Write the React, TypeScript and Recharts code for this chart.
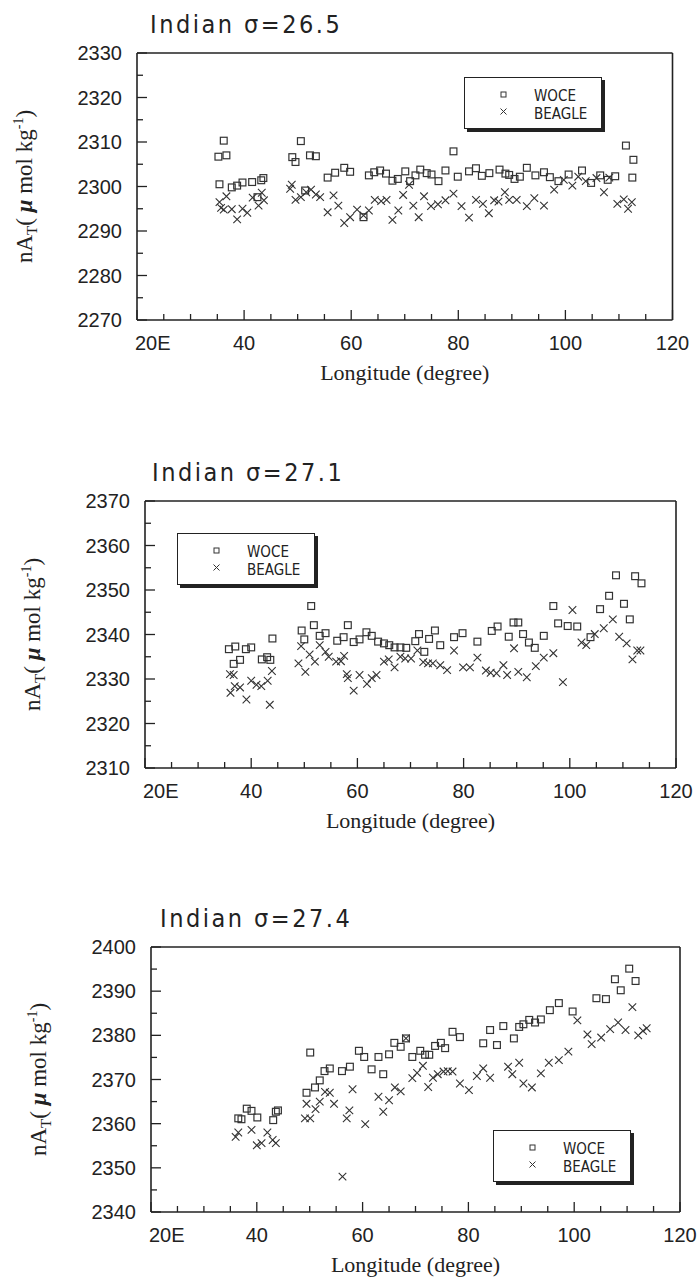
import { Scatter, ScatterChart, XAxis, YAxis } from 'recharts';

// normalized total alkalinity along longitude, Indian Ocean, three density surfaces
type Pt = [number, number]; // [longitude, nAT]

const WOCE_265: Pt[] = [
  [35.2, 2306.7], [35.4, 2300.5], [36.2, 2310.3], [36.7, 2307.0], [37.7, 2299.8], [38.7, 2300.2],
  [39.7, 2300.9], [41.5, 2301.0], [42.5, 2297.6], [43.2, 2301.4], [43.6, 2301.9], [49.0, 2306.6],
  [49.6, 2305.5], [50.6, 2310.2], [51.4, 2299.1], [52.3, 2307.0], [53.4, 2306.8], [55.6, 2302.0],
  [57.0, 2303.1], [58.7, 2304.2], [59.8, 2303.3], [62.3, 2293.1], [63.3, 2302.5], [64.3, 2303.2],
  [65.4, 2303.6], [66.5, 2302.9], [67.7, 2301.3], [68.7, 2301.7], [70.1, 2303.4], [71.0, 2301.2],
  [72.0, 2302.5], [72.9, 2303.8], [74.1, 2303.0], [75.0, 2302.7], [76.3, 2301.2], [77.6, 2303.6],
  [79.1, 2307.9], [79.9, 2302.2], [82.0, 2303.4], [83.3, 2304.1], [84.4, 2302.4], [85.8, 2303.0],
  [87.7, 2303.8], [88.8, 2302.9], [89.5, 2302.6], [90.5, 2301.7], [91.5, 2302.2], [92.8, 2304.2],
  [94.4, 2302.5], [96.0, 2303.2], [97.1, 2302.1], [98.7, 2301.2], [100.6, 2302.7], [103.1, 2303.6],
  [104.8, 2300.8], [106.5, 2302.5], [107.9, 2301.5], [109.3, 2302.3], [111.3, 2309.2], [112.5, 2302.0],
  [112.7, 2306.0],
];

const BEAGLE_265: Pt[] = [
  [35.4, 2296.5], [35.7, 2295.2], [36.2, 2294.8], [36.7, 2297.8], [37.7, 2294.9], [38.7, 2292.6],
  [39.7, 2295.0], [40.6, 2294.1], [41.6, 2297.5], [42.7, 2295.7], [43.3, 2298.6], [43.7, 2296.9],
  [48.6, 2299.5], [48.9, 2300.4], [49.6, 2297.0], [50.6, 2297.6], [51.6, 2298.7], [52.5, 2299.3],
  [53.4, 2298.2], [54.2, 2297.6], [55.6, 2294.2], [56.7, 2298.0], [57.6, 2295.7], [58.7, 2291.8],
  [59.8, 2293.1], [61.1, 2294.8], [62.3, 2293.5], [63.3, 2294.6], [64.4, 2297.0], [65.6, 2296.7],
  [66.6, 2297.0], [67.7, 2292.5], [68.8, 2294.6], [69.7, 2298.1], [70.8, 2300.4], [71.6, 2295.7],
  [72.6, 2293.1], [73.6, 2297.8], [74.9, 2295.6], [76.2, 2296.0], [77.6, 2296.9], [79.1, 2298.4],
  [80.6, 2295.6], [82.0, 2293.0], [83.3, 2297.0], [84.6, 2296.1], [85.7, 2294.0], [86.7, 2296.9],
  [87.5, 2296.6], [88.7, 2298.7], [89.5, 2297.0], [90.9, 2297.0], [92.8, 2295.6], [94.2, 2297.4],
  [96.0, 2295.7], [97.9, 2299.3], [99.7, 2301.5], [101.3, 2300.2], [102.4, 2302.2], [103.8, 2301.2],
  [105.8, 2301.9], [107.2, 2298.7], [108.2, 2302.0], [109.7, 2296.1], [110.9, 2297.1], [111.7, 2295.0],
  [112.4, 2296.5],
];

const WOCE_271: Pt[] = [
  [35.8, 2336.7], [36.7, 2333.4], [37.0, 2337.3], [37.9, 2334.3], [39.0, 2336.7], [40.0, 2337.1],
  [42.0, 2334.4], [43.0, 2334.9], [43.6, 2334.3], [44.0, 2339.1], [49.5, 2340.9], [50.0, 2338.9],
  [51.3, 2346.4], [51.8, 2342.1], [52.9, 2339.7], [54.0, 2340.3], [56.2, 2338.6], [57.4, 2339.4],
  [58.2, 2342.1], [59.3, 2338.3], [60.4, 2338.9], [61.7, 2340.5], [62.7, 2339.7], [63.9, 2338.4],
  [65.0, 2338.0], [66.0, 2337.6], [67.0, 2337.1], [68.1, 2337.1], [69.2, 2337.0], [70.9, 2338.5],
  [71.6, 2340.1], [72.6, 2336.1], [73.5, 2339.0], [74.6, 2340.9], [75.6, 2337.6], [78.2, 2339.4],
  [79.8, 2340.3], [82.6, 2338.4], [85.3, 2340.8], [86.4, 2341.8], [88.5, 2339.5], [89.4, 2342.7],
  [90.3, 2342.7], [91.2, 2340.1], [92.3, 2338.2], [93.4, 2337.0], [95.1, 2339.7], [96.9, 2346.4],
  [97.8, 2342.5], [99.6, 2341.9], [101.4, 2341.8], [103.9, 2339.4], [105.7, 2345.7], [107.4, 2348.7],
  [108.7, 2353.3], [110.2, 2346.9], [111.3, 2343.4], [112.3, 2353.1], [113.5, 2351.5],
];

const BEAGLE_271: Pt[] = [
  [36.0, 2331.1], [36.1, 2326.9], [36.7, 2330.9], [36.9, 2328.4], [37.9, 2328.1], [39.1, 2325.4],
  [40.0, 2329.6], [41.0, 2328.7], [41.9, 2328.4], [43.1, 2329.6], [43.5, 2324.2], [43.9, 2331.8],
  [48.9, 2333.5], [49.4, 2337.4], [50.2, 2331.6], [51.0, 2335.5], [52.0, 2333.9], [52.9, 2337.6],
  [54.0, 2336.1], [54.6, 2335.0], [56.0, 2333.9], [56.9, 2334.0], [57.5, 2335.2], [58.0, 2331.1],
  [58.2, 2330.2], [59.3, 2327.4], [60.4, 2330.9], [61.8, 2328.9], [62.7, 2330.2], [63.6, 2330.9],
  [65.0, 2333.9], [65.9, 2334.4], [67.0, 2332.6], [68.1, 2335.0], [69.0, 2334.6], [70.1, 2334.6],
  [71.3, 2336.4], [72.4, 2333.8], [73.3, 2333.5], [74.2, 2333.5], [75.6, 2333.1], [76.9, 2332.0],
  [78.2, 2336.4], [79.9, 2332.6], [81.2, 2332.6], [82.6, 2334.8], [84.2, 2331.9], [85.1, 2331.4],
  [86.2, 2331.3], [87.5, 2333.1], [88.2, 2330.9], [89.5, 2336.9], [90.3, 2331.6], [91.9, 2330.4],
  [93.6, 2332.9], [95.1, 2334.8], [96.9, 2335.8], [98.7, 2329.3], [100.5, 2345.5], [102.2, 2338.2],
  [103.1, 2337.6], [104.7, 2340.1], [106.4, 2341.4], [108.1, 2343.4], [109.3, 2339.5], [110.7, 2338.0],
  [111.8, 2334.4], [112.7, 2336.4], [113.3, 2336.4],
];

const WOCE_274: Pt[] = [
  [36.5, 2361.2], [37.1, 2361.0], [38.1, 2363.4], [39.0, 2362.9], [40.1, 2361.4], [43.1, 2360.8],
  [43.6, 2362.7], [44.0, 2363.0], [49.4, 2367.0], [50.1, 2376.1], [51.0, 2368.2], [51.9, 2369.8],
  [52.8, 2371.9], [53.8, 2372.5], [56.1, 2371.9], [57.6, 2372.9], [59.3, 2376.5], [60.3, 2375.1],
  [61.7, 2372.3], [63.0, 2375.1], [63.9, 2371.2], [65.0, 2375.7], [66.0, 2378.3], [67.2, 2377.4],
  [68.2, 2379.3], [69.4, 2375.1], [70.9, 2376.5], [71.8, 2375.6], [72.6, 2375.6], [73.7, 2377.6],
  [74.8, 2378.3], [75.6, 2377.1], [77.0, 2380.8], [78.4, 2379.6], [82.8, 2378.2], [84.1, 2381.2],
  [85.4, 2377.8], [86.6, 2382.1], [88.6, 2379.3], [89.6, 2381.9], [90.4, 2382.5], [91.5, 2383.5],
  [92.6, 2382.9], [93.7, 2383.6], [95.4, 2385.7], [97.1, 2387.3], [99.7, 2385.4], [104.2, 2388.4],
  [106.0, 2388.2], [107.7, 2392.7], [108.8, 2390.2], [110.4, 2395.1], [111.6, 2392.3],
];

const BEAGLE_274: Pt[] = [
  [36.0, 2357.0], [36.5, 2358.0], [39.0, 2358.6], [40.0, 2355.1], [40.9, 2355.6], [42.0, 2358.0],
  [43.0, 2356.3], [43.6, 2355.6], [49.1, 2361.2], [49.4, 2364.5], [50.1, 2361.2], [51.1, 2363.3],
  [51.9, 2365.0], [52.9, 2367.2], [53.8, 2367.0], [54.6, 2364.5], [56.2, 2348.0], [57.0, 2361.2],
  [57.5, 2363.0], [58.1, 2367.8], [60.5, 2359.9], [63.0, 2366.1], [63.9, 2362.7], [65.0, 2365.3],
  [66.1, 2368.2], [67.2, 2367.3], [68.2, 2379.3], [69.4, 2370.3], [70.3, 2371.5], [71.4, 2373.1],
  [72.4, 2368.3], [73.3, 2370.4], [74.2, 2371.2], [75.3, 2371.8], [76.1, 2371.9], [77.0, 2371.8],
  [78.4, 2369.1], [80.1, 2367.6], [81.6, 2370.8], [82.8, 2372.5], [84.1, 2370.4], [87.5, 2372.9],
  [88.3, 2371.2], [89.6, 2373.8], [90.4, 2369.1], [92.0, 2368.2], [93.7, 2371.4], [95.2, 2373.8],
  [97.1, 2374.4], [98.9, 2376.3], [100.6, 2383.4], [102.5, 2380.2], [103.3, 2378.0], [105.1, 2379.5],
  [106.8, 2381.4], [108.3, 2382.9], [109.7, 2381.2], [111.0, 2386.4], [112.1, 2380.0], [113.0, 2381.0],
  [113.7, 2381.6],
];

const LON_TICKS = [20, 25, 30, 35, 40, 45, 50, 55, 60, 65, 70, 75, 80, 85, 90, 95, 100, 105, 110, 115, 120];
const LON_LABELS: Record<number, string> = { 20: '20E', 40: '40', 60: '60', 80: '80', 100: '100', 120: '120' };

const Y_TICKS_265 = [2270, 2275, 2280, 2285, 2290, 2295, 2300, 2305, 2310, 2315, 2320, 2325, 2330];
const Y_TICKS_271 = [2310, 2315, 2320, 2325, 2330, 2335, 2340, 2345, 2350, 2355, 2360, 2365, 2370];
const Y_TICKS_274 = [2340, 2345, 2350, 2355, 2360, 2365, 2370, 2375, 2380, 2385, 2390, 2395, 2400];

const SERIES_NAMES = ['WOCE', 'BEAGLE'];

const INK = '#222';
const MARK = '#333';
const SANS = "'Liberation Sans', Arial, sans-serif";
const NARROW = "'Liberation Sans Narrow', 'DejaVu Sans Condensed', 'Liberation Sans', sans-serif";
const SERIF = "'Liberation Serif', 'Times New Roman', serif";

const toRows = (pts: Pt[]) => pts.map(([lon, val]) => ({ lon, val }));

function SquareMark(props: any) {
  const { cx, cy } = props;
  if (cx == null || cy == null) return null;
  return <rect x={cx - 3.4} y={cy - 3.4} width={6.8} height={6.8} fill="none" stroke={MARK} strokeWidth={1.2} />;
}

function CrossMark(props: any) {
  const { cx, cy } = props;
  if (cx == null || cy == null) return null;
  const r = 3.8;
  return (
    <path d={`M${cx - r},${cy - r}L${cx + r},${cy + r}M${cx - r},${cy + r}L${cx + r},${cy - r}`} stroke={MARK} strokeWidth={1.1} fill="none" />
  );
}

// ticks point inward on every side; major ones are longer
function BottomTick(props: any) {
  const { x, y, payload } = props;
  const v = payload.value as number;
  const major = v % 20 === 0;
  const label = LON_LABELS[v];
  return (
    <g>
      <line x1={x} y1={y} x2={x} y2={y - (major ? 10 : 6)} stroke={INK} strokeWidth={1.3} />
      {label && (
        <text x={v === 20 ? x - 2 : x} y={y + 30} textAnchor={v === 20 ? 'start' : 'middle'} fontFamily={SANS} fontSize={20} fill={INK}>
          {label}
        </text>
      )}
    </g>
  );
}

function TopTick(props: any) {
  const { x, y, payload } = props;
  const major = (payload.value as number) % 20 === 0;
  return <line x1={x} y1={y} x2={x} y2={y + (major ? 10 : 6)} stroke={INK} strokeWidth={1.3} />;
}

function LeftTick(props: any) {
  const { x, y, payload } = props;
  const v = payload.value as number;
  const major = v % 10 === 0;
  return (
    <g>
      <line x1={x} y1={y} x2={x + (major ? 10 : 6)} y2={y} stroke={INK} strokeWidth={1.3} />
      {major && (
        <text x={x - 15} y={y + 7} textAnchor="end" fontFamily={SANS} fontSize={20} fill={INK}>
          {v}
        </text>
      )}
    </g>
  );
}

function RightTick(props: any) {
  const { x, y, payload } = props;
  const major = (payload.value as number) % 10 === 0;
  return <line x1={x} y1={y} x2={x - (major ? 10 : 6)} y2={y} stroke={INK} strokeWidth={1.3} />;
}

function LegendBox({ x, y }: { x: number; y: number }) {
  return (
    <div
      style={{
        position: 'absolute',
        left: x,
        top: y,
        width: 136,
        height: 50,
        border: `1.5px solid ${INK}`,
        boxShadow: `3px 3px 0 ${INK}`,
        background: '#fff',
      }}
    >
      <svg width={136} height={50} style={{ position: 'absolute', left: 0, top: 0 }}>
        <rect x={36} y={14} width={5} height={5} fill="none" stroke={MARK} strokeWidth={1} />
        <path d="M35.5,30.5L41.5,36.5M35.5,36.5L41.5,30.5" stroke={MARK} strokeWidth={1} />
        <text x={69} y={22.5} fontFamily={NARROW} fontSize={15} fill={INK}>{SERIES_NAMES[0]}</text>
        <text x={69} y={40.5} fontFamily={NARROW} fontSize={15} fill={INK}>{SERIES_NAMES[1]}</text>
      </svg>
    </div>
  );
}

interface PanelProps {
  top: number;
  title: string;
  woce: Pt[];
  beagle: Pt[];
  yTicks: number[];
  left: number;
  right: number;
  plotH: number;
  titleX: number;
  yLabelX: number;
  legendX: number;
  legendY: number;
}

const W = 700;
const H = 392;
const M_TOP = 53;

function Panel({ top, title, woce, beagle, yTicks, left, right, plotH, titleX, yLabelX, legendX, legendY }: PanelProps) {
  // axes take 1px each, so margins are reduced by one to keep the plot frame where wanted
  const margin = { top: M_TOP - 1, left: left - 1, right: W - right - 1, bottom: H - M_TOP - plotH - 1 };
  const yDomain: [number, number] = [yTicks[0], yTicks[yTicks.length - 1]];
  const frameBottom = M_TOP + plotH;
  const cy = M_TOP + plotH / 2;
  const axisLine = { stroke: INK, strokeWidth: 1.6 };
  return (
    <div style={{ position: 'absolute', left: 0, top, width: W, height: H }}>
      <ScatterChart width={W} height={H} margin={margin}>
        <XAxis
          dataKey="lon"
          type="number"
          domain={[20, 120]}
          ticks={LON_TICKS}
          interval={0}
          height={1}
          tickSize={0}
          tickMargin={0}
          tickLine={false}
          axisLine={axisLine}
          tick={(p: any) => <BottomTick {...p} />}
        />
        <XAxis
          xAxisId="t"
          orientation="top"
          type="number"
          domain={[20, 120]}
          ticks={LON_TICKS}
          interval={0}
          height={1}
          tickSize={0}
          tickMargin={0}
          tickLine={false}
          axisLine={axisLine}
          tick={(p: any) => <TopTick {...p} />}
        />
        <YAxis
          dataKey="val"
          type="number"
          domain={yDomain}
          ticks={yTicks}
          interval={0}
          width={1}
          tickSize={0}
          tickMargin={0}
          tickLine={false}
          axisLine={axisLine}
          tick={(p: any) => <LeftTick {...p} />}
        />
        <YAxis
          yAxisId="r"
          orientation="right"
          type="number"
          domain={yDomain}
          ticks={yTicks}
          interval={0}
          width={1}
          tickSize={0}
          tickMargin={0}
          tickLine={false}
          axisLine={axisLine}
          tick={(p: any) => <RightTick {...p} />}
        />
        <Scatter name={SERIES_NAMES[0]} data={toRows(woce)} shape={SquareMark} isAnimationActive={false} />
        <Scatter name={SERIES_NAMES[1]} data={toRows(beagle)} shape={CrossMark} isAnimationActive={false} />
      </ScatterChart>
      <LegendBox x={legendX} y={legendY} />
      <svg width={W} height={H} style={{ position: 'absolute', left: 0, top: 0, pointerEvents: 'none' }}>
        <text x={titleX} y={M_TOP - 20} fontFamily={NARROW} fontSize={25} letterSpacing={2.5} fill={INK}>
          {title}
        </text>
        <text
          transform={`translate(${yLabelX},${cy}) rotate(-90)`}
          textAnchor="middle"
          fontFamily={SERIF}
          fontSize={23}
          fill={INK}
        >
          nA
          <tspan dy={5} fontSize={15}>T</tspan>
          <tspan dy={-5}>( </tspan>
          <tspan fontStyle="italic" fontWeight="bold">μ</tspan>
          <tspan> mol kg</tspan>
          <tspan dy={-9} fontSize={14}>-1</tspan>
          <tspan dy={9}>)</tspan>
        </text>
        <text x={(left + right) / 2} y={frameBottom + 60} textAnchor="middle" fontFamily={SERIF} fontSize={22} fill={INK}>
          Longitude (degree)
        </text>
      </svg>
    </div>
  );
}

export default function App() {
  return (
    <div style={{ position: 'absolute', left: 0, top: 0, width: W, height: 1286, background: '#fff' }}>
      <Panel
        top={0}
        title="Indian  σ=26.5"
        woce={WOCE_265}
        beagle={BEAGLE_265}
        yTicks={Y_TICKS_265}
        left={137}
        right={672.5}
        plotH={267}
        titleX={150}
        yLabelX={32}
        legendX={464}
        legendY={77}
      />
      <Panel
        top={448}
        title="Indian  σ=27.1"
        woce={WOCE_271}
        beagle={BEAGLE_271}
        yTicks={Y_TICKS_271}
        left={145}
        right={676}
        plotH={267}
        titleX={152}
        yLabelX={40}
        legendX={177}
        legendY={85}
      />
      <Panel
        top={894}
        title="Indian  σ=27.4"
        woce={WOCE_274}
        beagle={BEAGLE_274}
        yTicks={Y_TICKS_274}
        left={151}
        right={680}
        plotH={265}
        titleX={160}
        yLabelX={46}
        legendX={493}
        legendY={236}
      />
    </div>
  );
}
